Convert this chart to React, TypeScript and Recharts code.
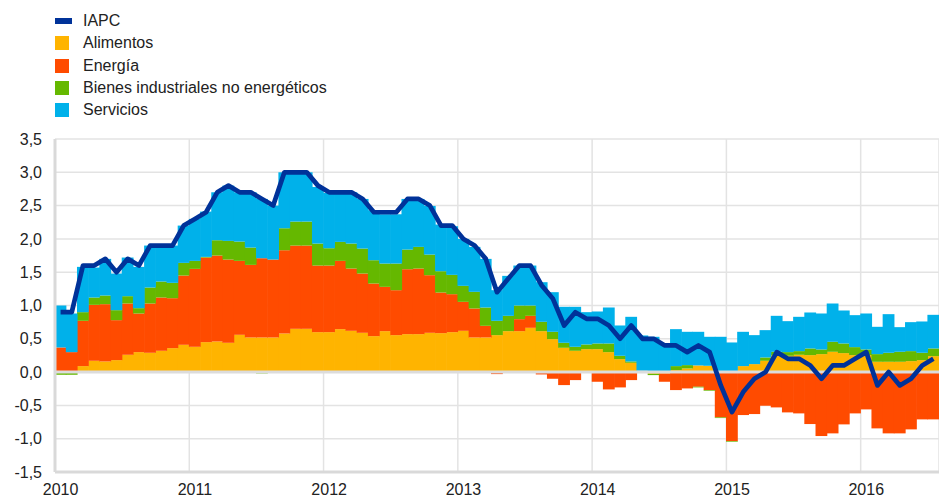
import React from "react";
import { ComposedChart, Bar, Line, XAxis, YAxis, CartesianGrid, ReferenceLine } from "recharts";

const years = [2010, 2011, 2012, 2013, 2014, 2015, 2016];
const lastYearMonths = 7;

// contribuciones (puntos porcentuales), ene 2010 - jul 2016
const alimentos = [
  0.0, 0.0, 0.09, 0.17, 0.16, 0.18, 0.26, 0.3, 0.29, 0.32, 0.36, 0.41,
  0.38, 0.45, 0.46, 0.44, 0.56, 0.52, 0.52, 0.52, 0.58, 0.65, 0.65, 0.6,
  0.6, 0.645, 0.62, 0.59, 0.54, 0.615, 0.555, 0.57, 0.57, 0.59, 0.585, 0.6,
  0.62, 0.52, 0.52, 0.555, 0.615, 0.615, 0.665, 0.615, 0.495, 0.365, 0.32, 0.345,
  0.345, 0.3, 0.195, 0.14, 0.02, -0.025, -0.02, 0.03, 0.055, 0.1, 0.095, 0.01,
  0.0, 0.09, 0.12, 0.17, 0.255, 0.245, 0.26, 0.255, 0.27, 0.305, 0.285, 0.255,
  0.255, 0.155, 0.155, 0.155, 0.165, 0.18, 0.24,
];
const energia = [
  0.37, 0.3, 0.68, 0.84, 0.86, 0.6, 0.77, 0.58, 0.74, 0.8, 0.75, 1.04,
  1.17, 1.27, 1.29, 1.25, 1.11, 1.09, 1.19, 1.17, 1.25, 1.25, 1.25, 1.0,
  1.0, 1.025, 0.935, 0.89, 0.79, 0.665, 0.675, 0.975, 0.985, 0.865, 0.61, 0.57,
  0.435, 0.435, 0.175, -0.03, -0.01, 0.18, 0.18, -0.035, -0.1, -0.195, -0.12, 0.0,
  -0.145, -0.26, -0.23, -0.12, 0.0, 0.0, -0.125, -0.27, -0.245, -0.22, -0.27, -0.68,
  -1.035, -0.645, -0.63, -0.505, -0.53, -0.605, -0.62, -0.78, -0.96, -0.92, -0.785, -0.62,
  -0.56, -0.845, -0.92, -0.92, -0.86, -0.71, -0.71,
];
const bienes = [
  -0.04, -0.04, 0.13, 0.11, 0.13, 0.15, 0.11, 0.08, 0.24, 0.24, 0.23, 0.19,
  0.12, 0.01, 0.23, 0.28, 0.29, 0.26, -0.02, 0.0, 0.33, 0.36, 0.36, 0.33,
  0.26, 0.285, 0.375, 0.375, 0.35, 0.35, 0.4, 0.295, 0.325, 0.31, 0.32, 0.29,
  0.24, 0.25, 0.275, 0.215, 0.23, 0.205, 0.155, 0.14, 0.11, 0.075, 0.06, 0.07,
  0.085, 0.13, 0.05, 0.02, 0.0, -0.02, 0.0, 0.06, 0.05, -0.01, -0.01, -0.01,
  -0.01, 0.0, 0.0, 0.05, 0.05, 0.055, 0.055, 0.1, 0.07, 0.15, 0.145, 0.12,
  0.085, 0.115, 0.135, 0.15, 0.15, 0.11, 0.115,
];
const servicios = [
  0.63, 0.58, 0.68, 0.45, 0.55, 0.55, 0.58, 0.62, 0.63, 0.54, 0.56, 0.56,
  0.63, 0.68, 0.72, 0.83, 0.74, 0.83, 0.89, 0.81, 0.84, 0.74, 0.74, 0.85,
  0.83, 0.745, 0.77, 0.745, 0.75, 0.74, 0.74, 0.76, 0.72, 0.73, 0.7, 0.73,
  0.705, 0.675, 0.73, 0.46, 0.6, 0.6, 0.6, 0.595, 0.595, 0.54, 0.6, 0.485,
  0.48, 0.54, 0.455, 0.67, 0.53, 0.53, 0.42, 0.555, 0.5, 0.505, 0.435, 0.52,
  0.445, 0.515, 0.435, 0.41, 0.54, 0.465, 0.515, 0.54, 0.54, 0.575, 0.495, 0.48,
  0.54, 0.41, 0.58, 0.37, 0.435, 0.47, 0.505,
];
const iapc = [
  0.9, 0.9, 1.6, 1.6, 1.7, 1.5, 1.7, 1.6, 1.9, 1.9, 1.9, 2.2,
  2.3, 2.4, 2.7, 2.8, 2.7, 2.7, 2.6, 2.5, 3.0, 3.0, 3.0, 2.8,
  2.7, 2.7, 2.7, 2.6, 2.4, 2.4, 2.4, 2.6, 2.6, 2.5, 2.2, 2.2,
  2.0, 1.9, 1.7, 1.2, 1.4, 1.6, 1.6, 1.3, 1.1, 0.7, 0.9, 0.8,
  0.8, 0.7, 0.5, 0.7, 0.5, 0.5, 0.4, 0.4, 0.3, 0.4, 0.3, -0.2,
  -0.6, -0.3, -0.1, 0.0, 0.3, 0.2, 0.2, 0.1, -0.1, 0.1, 0.1, 0.2,
  0.3, -0.2, 0.0, -0.2, -0.1, 0.1, 0.2,
];
const yTicks = [-1.5, -1.0, -0.5, 0.0, 0.5, 1.0, 1.5, 2.0, 2.5, 3.0, 3.5];

const months: string[] = [];
years.forEach((y, i) => {
  const n = i === years.length - 1 ? lastYearMonths : 12;
  for (let m = 1; m <= n; m++) months.push(`${y}-${String(m).padStart(2, "0")}`);
});

const data = months.map((m, i) => ({
  mes: m,
  idx: i,
  alimentos: alimentos[i],
  energia: energia[i],
  bienes: bienes[i],
  servicios: servicios[i],
  iapc: iapc[i],
}));

const janTicks = years.map((y) => `${y}-01`);
const yearStarts = years.slice(1).map((_, i) => (i + 1) * 12);

const FONT = "'Liberation Sans', Arial, Helvetica, sans-serif";
const C = {
  iapc: "#003299",
  alimentos: "#FFB400",
  energia: "#FF4B00",
  bienes: "#65B800",
  servicios: "#00B1EA",
};

const legend = [
  { label: "IAPC", color: C.iapc, line: true },
  { label: "Alimentos", color: C.alimentos },
  { label: "Energía", color: C.energia },
  { label: "Bienes industriales no energéticos", color: C.bienes },
  { label: "Servicios", color: C.servicios },
];

const fmt = (v: number) => v.toFixed(1).replace(".", ",");

// slightly widened rect so neighbouring months touch without seams
const SolidBar = (p: any) => {
  const { x, y, width, height, fill } = p;
  if (!width || !height) return null;
  const top = Math.min(y, y + height);
  return <rect x={x - 0.4} y={top} width={width + 0.8} height={Math.abs(height)} fill={fill} />;
};

export default function App() {
  return (
    <div style={{ position: "absolute", left: 0, top: 0, width: 939, height: 497, background: "#fff", fontFamily: FONT }}>
      <div style={{ position: "absolute", left: 55, top: 10 }}>
        {legend.map((l) => (
          <div key={l.label} style={{ display: "flex", alignItems: "center", height: 22.3, fontSize: 16, color: "#222" }}>
            <div style={{ width: 28, display: "flex", alignItems: "center" }}>
              <span style={{ display: "inline-block", width: l.line ? 17 : 14, height: l.line ? 6 : 14, background: l.color }} />
            </div>
            <span>{l.label}</span>
          </div>
        ))}
      </div>
      <ComposedChart
        width={939}
        height={497}
        data={data}
        stackOffset="sign"
        barCategoryGap={0}
        barGap={0}
        margin={{ top: 139, right: 0, left: 0, bottom: 0 }}
      >
        <CartesianGrid xAxisId="grid" stroke="#e3e3e3" strokeWidth={1.5} />
        <XAxis xAxisId="grid" type="number" dataKey="idx" domain={[0, months.length]} ticks={yearStarts} hide allowDataOverflow />
        <XAxis
          dataKey="mes"
          ticks={janTicks}
          interval={0}
          tickFormatter={(v: string) => v.slice(0, 4)}
          tickLine={false}
          tickSize={0}
          tickMargin={12}
          height={25}
          axisLine={{ stroke: "#d9d9d9", strokeWidth: 3 }}
          tick={{ fontSize: 16, fill: "#222", fontFamily: FONT }}
        />
        <YAxis
          domain={[-1.5, 3.5]}
          ticks={yTicks}
          interval={0}
          width={55}
          tickFormatter={fmt}
          tickLine={false}
          tickSize={0}
          tickMargin={13}
          axisLine={{ stroke: "#d9d9d9", strokeWidth: 3 }}
          tick={{ fontSize: 16, fill: "#222", fontFamily: FONT }}
        />
        <Bar dataKey="alimentos" stackId="a" fill={C.alimentos} shape={SolidBar} isAnimationActive={false} />
        <Bar dataKey="energia" stackId="a" fill={C.energia} shape={SolidBar} isAnimationActive={false} />
        <Bar dataKey="bienes" stackId="a" fill={C.bienes} shape={SolidBar} isAnimationActive={false} />
        <Bar dataKey="servicios" stackId="a" fill={C.servicios} shape={SolidBar} isAnimationActive={false} />
        <ReferenceLine y={0} stroke="#dcdcdc" strokeWidth={3} />
        <Line
          dataKey="iapc"
          type="linear"
          stroke={C.iapc}
          strokeWidth={4.7}
          strokeLinejoin="round"
          dot={false}
          activeDot={false}
          isAnimationActive={false}
        />
      </ComposedChart>
    </div>
  );
}
